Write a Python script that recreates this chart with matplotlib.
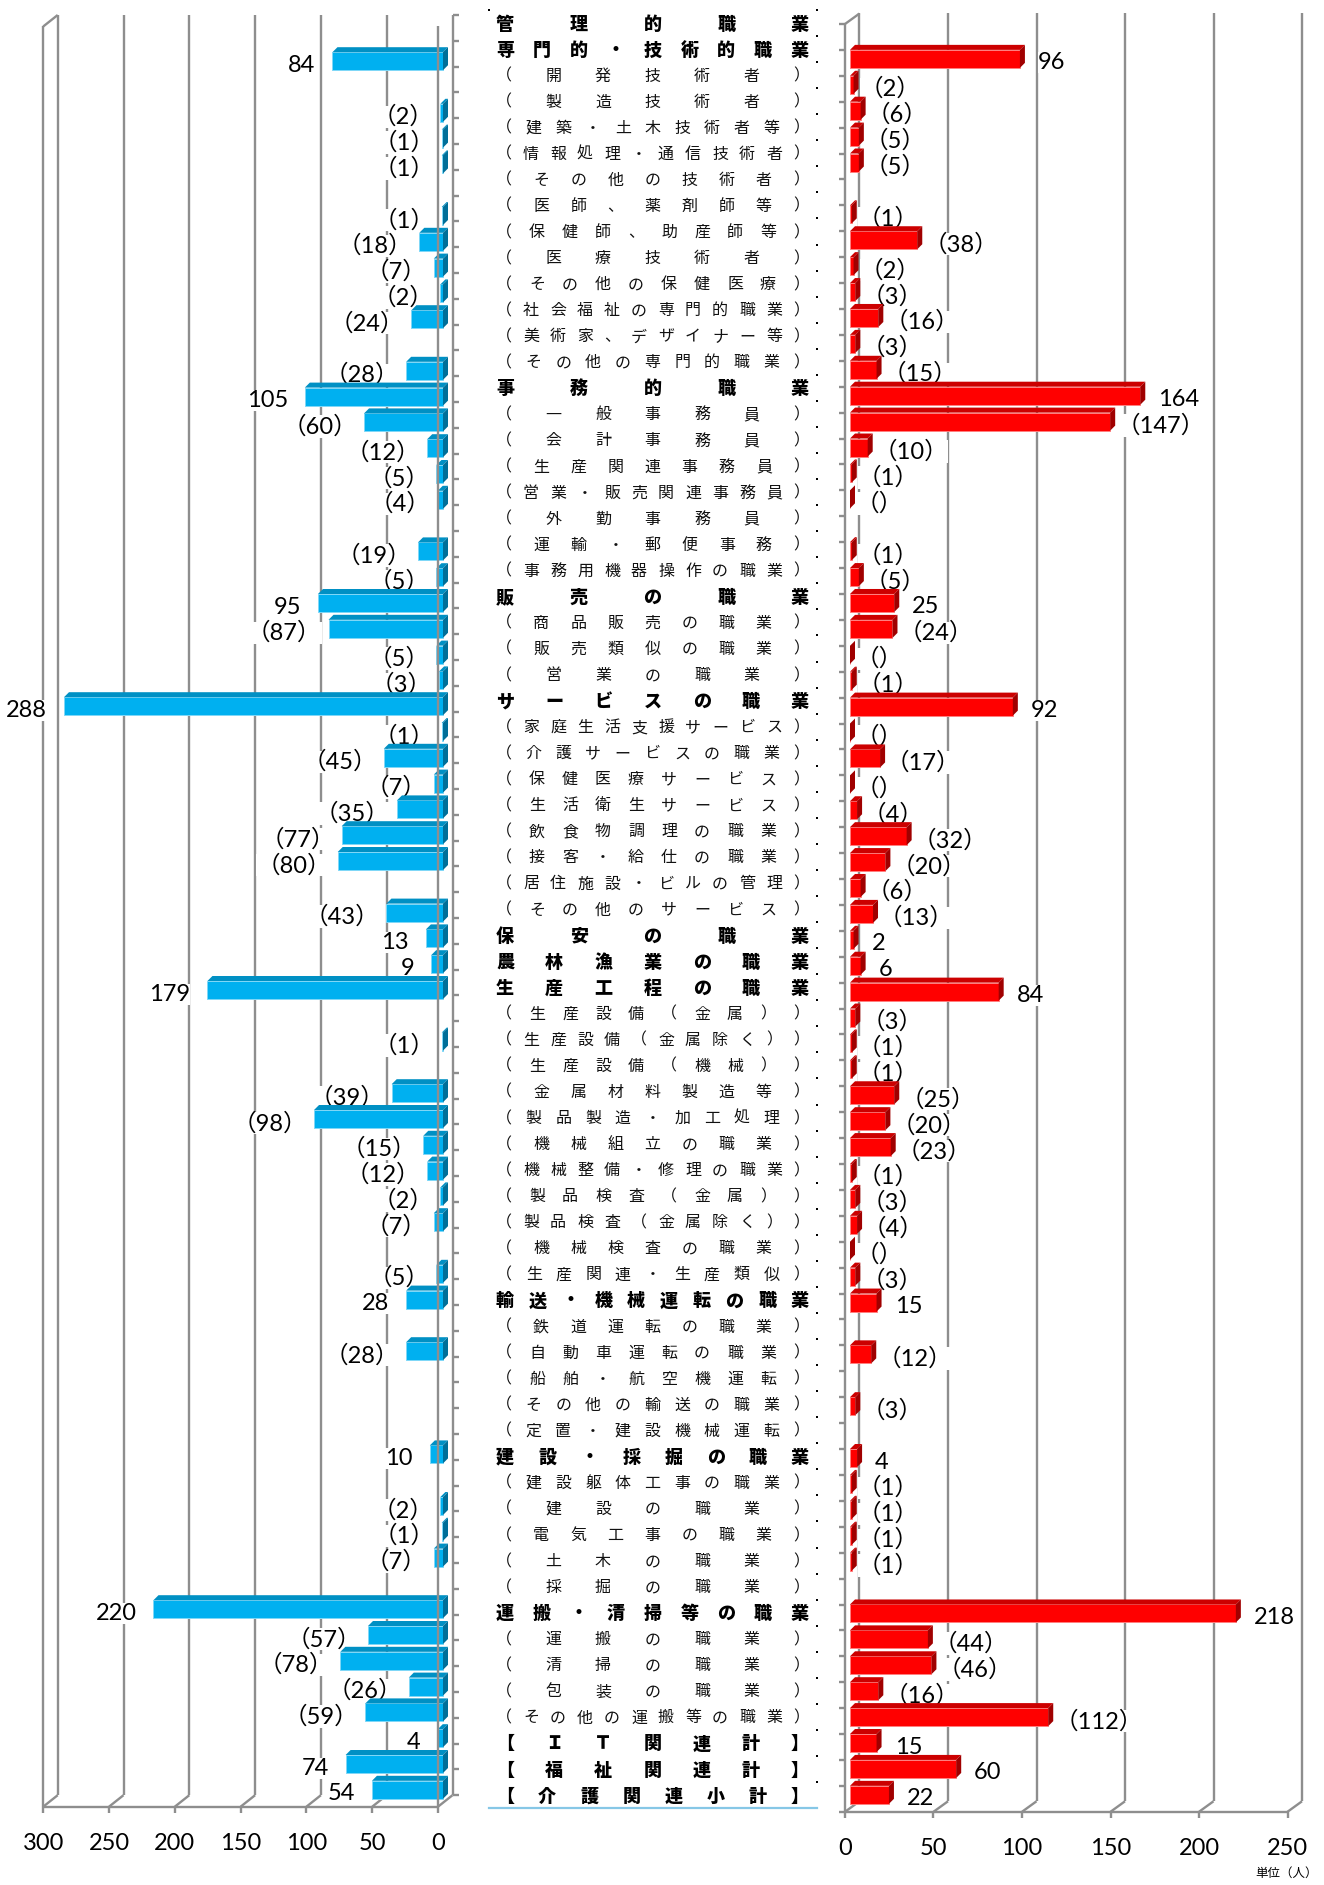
import matplotlib
matplotlib.use("Agg")
import matplotlib.pyplot as plt
from matplotlib.patches import Polygon
import numpy as np

# ---------------- data ----------------
categories = [
    "管理的職業", "専門的・技術的職業", "（開発技術者）", "（製造技術者）", "（建築・土木技術者等）",
    "（情報処理・通信技術者）", "（その他の技術者）", "（医師、薬剤師等）", "（保健師、助産師等）",
    "（医療技術者）", "（その他の保健医療）", "（社会福祉の専門的職業）", "（美術家、デザイナー等）",
    "（その他の専門的職業）", "事務的職業", "（一般事務員）", "（会計事務員）", "（生産関連事務員）",
    "（営業・販売関連事務員）", "（外勤事務員）", "（運輸・郵便事務）", "（事務用機器操作の職業）",
    "販売の職業", "（商品販売の職業）", "（販売類似の職業）", "（営業の職業）",
    "サービスの職業", "（家庭生活支援サービス）", "（介護サービスの職業）", "（保健医療サービス）",
    "（生活衛生サービス）", "（飲食物調理の職業）", "（接客・給仕の職業）", "（居住施設・ビルの管理）",
    "（その他のサービス）", "保安の職業", "農林漁業の職業", "生産工程の職業",
    "（生産設備（金属））", "（生産設備（金属除く））", "（生産設備（機械））", "（金属材料製造等）",
    "（製品製造・加工処理）", "（機械組立の職業）", "（機械整備・修理の職業）", "（製品検査（金属））",
    "（製品検査（金属除く））", "（機械検査の職業）", "（生産関連・生産類似）",
    "輸送・機械運転の職業", "（鉄道運転の職業）", "（自動車運転の職業）", "（船舶・航空機運転）",
    "（その他の輸送の職業）", "（定置・建設機械運転）",
    "建設・採掘の職業", "（建設躯体工事の職業）", "（建設の職業）", "（電気工事の職業）",
    "（土木の職業）", "（採掘の職業）",
    "運搬・清掃等の職業", "（運搬の職業）", "（清掃の職業）", "（包装の職業）", "（その他の運搬等の職業）",
    "【ＩＴ関連計】", "【福祉関連計】", "【介護関連小計】",
]

left_values = [None, 84, None, 2, 1, 1, None, 1, 18, 7, 2, 24, None, 28,
               105, 60, 12, 5, 4, None, 19, 5,
               95, 87, 5, 3,
               288, 1, 45, 7, 35, 77, 80, None, 43,
               13, 9,
               179, None, 1, None, 39, 98, 15, 12, 2, 7, None, 5,
               28, None, 28, None, None, None,
               10, None, 2, 1, 7, None,
               220, 57, 78, 26, 59,
               4, 74, 54]

right_values = [None, 96, 2, 6, 5, 5, None, 1, 38, 2, 3, 16, 3, 15,
                164, 147, 10, 1, 0, None, 1, 5,
                25, 24, 0, 1,
                92, 0, 17, 0, 4, 32, 20, 6, 13,
                2, 6,
                84, 3, 1, 1, 25, 20, 23, 1, 3, 4, 0, 3,
                15, None, 12, None, 3, None,
                4, 1, 1, 1, 1, None,
                218, 44, 46, 16, 112,
                15, 60, 22]

left_ticks = [300, 250, 200, 150, 100, 50, 0]
right_ticks = [0, 50, 100, 150, 200, 250]
unit_label = "単位（人）"

# ---------------- figure ----------------
W, H = 1324, 1885
fig = plt.figure(figsize=(W / 100, H / 100), dpi=100)
fig.patch.set_facecolor("white")

NUM_FONT = ["Lato", "Noto Sans CJK JP"]
CJK_FONT = ["Noto Sans CJK JP", "DejaVu Sans"]
GRID = "#8e8e8e"
NROWS = len(categories)


def make_panel(a_px, b_px, x0px, sx, y0px, sy):
    ax = fig.add_axes([a_px / W, 0, (b_px - a_px) / W, 1])
    ax.set_xlim((a_px - x0px) / sx, (b_px - x0px) / sx)
    ax.set_ylim((H - y0px) / sy, -y0px / sy)
    ax.set_axis_off()
    ax.patch.set_visible(False)
    return ax


def line(ax, xs, ys, z=1, lw=1.7):
    ax.plot(xs, ys, color=GRID, lw=lw, zorder=z, solid_capstyle="butt")


def draw_frame(ax, ticks, sx, sy, bdx, bdy, walls_top, front_lines, cat_ticks):
    dxu, dyu = bdx / sx, bdy / sy
    for v in ticks:
        line(ax, [v + dxu, v + dxu], [dyu, NROWS + dyu])
        line(ax, [v, v + dxu], [NROWS, NROWS + dyu])
        line(ax, [v, v], [NROWS, NROWS + 6 / sy])
        ax.annotate(str(v), (v, NROWS), xytext=(0, -37), textcoords="offset pixels",
                    ha="center", va="center", fontsize=17, family=NUM_FONT, color="black")
    line(ax, [min(ticks), max(ticks)], [NROWS, NROWS])
    for v in walls_top:
        line(ax, [v, v], [0, NROWS])
        line(ax, [v, v + dxu], [0, dyu])
    for v in front_lines:
        line(ax, [v, v], [0, NROWS], z=6)
    kind, tick_px = cat_ticks
    for r in range(NROWS + 1):
        if kind == "back":
            line(ax, [dxu, dxu + tick_px / sx], [r + dyu, r + dyu])
        else:
            line(ax, [0, tick_px / sx], [r, r])


def draw_bars(ax, values, sx, sy, face, edge, top, side, left_side):
    d = 5
    ddx, ddy = d / sx, -d / sy
    hh = 18 / sy
    for i, v in enumerate(values):
        if v is None:
            continue
        yc = i + 0.5 - 4 / sy
        xa = 5 / sx
        xb = v + 5 / sx
        ax.barh(yc, v, left=xa, height=hh, color=face, edgecolor=edge, lw=0.7, zorder=3)
        yt, yb = yc - hh / 2, yc + hh / 2
        ax.add_patch(Polygon([(xa, yt), (xa + ddx, yt + ddy), (xb + ddx, yt + ddy), (xb, yt)],
                             closed=True, fc=top, ec="none", zorder=3))
        xr = xa if sx < 0 else xb
        ax.add_patch(Polygon([(xr, yt), (xr + ddx, yt + ddy), (xr + ddx, yb + ddy), (xr, yb)],
                             closed=True, fc=side, ec="none", zorder=3))
        main = not categories[i].startswith("（")
        if main:
            txt = str(v)
        else:
            txt = "（）" if v == 0 else "（%d）" % v
        box = dict(boxstyle="square,pad=0.0", fc="white", ec="none")
        if left_side:
            off = -17 if main else -7
            ax.annotate(txt, (xb, yc), xytext=(off, -4), textcoords="offset pixels",
                        ha="right", va="center", fontsize=17, family=NUM_FONT,
                        color="black", bbox=box, zorder=2)
        else:
            off = 13 if main else 1
            ax.annotate(txt, (xb + ddx, yc), xytext=(off, -4), textcoords="offset pixels",
                        ha="left", va="center", fontsize=17, family=NUM_FONT,
                        color="black", bbox=box, zorder=2)


# ---------------- center labels ----------------
axc = fig.add_axes([0, 0, 1, 1])
axc.set_xlim(0, W)
axc.set_ylim(H, 0)
axc.set_axis_off()
axc.patch.set_visible(False)

L, R = 496, 809
for i, lab in enumerate(categories):
    main = not lab.startswith("（")
    fs = 13 if main else 11.5
    w = fs * 100 / 72
    y = 24 + 26.06 * i
    xs = np.linspace(L + w / 2, R - w / 2, len(lab))
    for ch, x in zip(lab, xs):
        axc.text(x, y, ch, fontsize=fs, fontweight="heavy" if main else "normal",
                 family=CJK_FONT, ha="center", va="center",
                 color="black" if main else "#111111")

axc.scatter([817] * (NROWS + 1), [10 + 26.06 * k for k in range(NROWS + 1)],
            marker="s", s=2.5, color="black", lw=0)
axc.scatter([489, 489], [10, 10 + 26.06 * NROWS], marker="s", s=2.5, color="black", lw=0)
axc.plot([489, 817], [10 + 26.06 * NROWS] * 2, color="#86c7e6", lw=1.6)
axc.text(1318, 1873, unit_label, ha="right", va="center", fontsize=9, family=CJK_FONT)

# ---------------- left panel ----------------
axL = make_panel(0, 470, 438, -1.316, 26.5, 25.8)
draw_frame(axL, left_ticks, -1.316, 25.8, 14.5, -11.5,
           walls_top=[300], front_lines=[0], cat_ticks=("back", 6))
draw_bars(axL, left_values, -1.316, 25.8, face="#00b0f0", edge="#7fd8f8",
          top="#0090c4", side="#006f99", left_side=True)

# ---------------- right panel ----------------
axR = make_panel(820, 1324, 845, 1.77, 24, 25.91)
draw_frame(axR, right_ticks, 1.77, 25.91, 14.5, -10.5,
           walls_top=[0], front_lines=[], cat_ticks=("front", -6))
draw_bars(axR, right_values, 1.77, 25.91, face="#ff0000", edge="#ff8080",
          top="#cc0000", side="#a00000", left_side=False)

fig.savefig("out.png", dpi=100, facecolor="white")
